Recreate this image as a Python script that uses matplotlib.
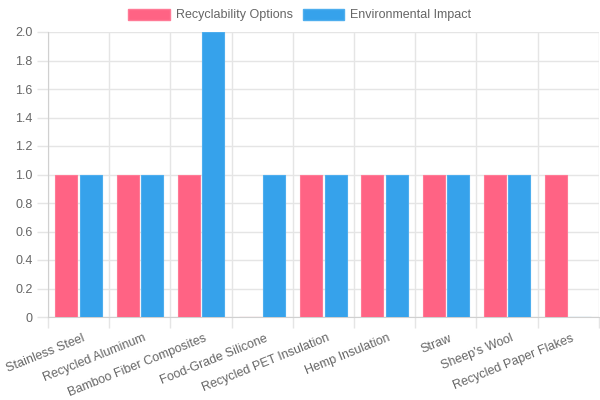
import numpy as np
import matplotlib
matplotlib.use('Agg')
import matplotlib.pyplot as plt
from matplotlib.patches import Patch

# data
categories = ['Stainless Steel', 'Recycled Aluminum', 'Bamboo Fiber Composites',
              'Food-Grade Silicone', 'Recycled PET Insulation', 'Hemp Insulation',
              'Straw', "Sheep's Wool", 'Recycled Paper Flakes']
recyclability = [1, 1, 1, 0, 1, 1, 1, 1, 1]
environmental = [1, 1, 2, 1, 1, 1, 1, 1, 0]
series_names = ['Recyclability Options', 'Environmental Impact']
y_ticks = [0, 0.2, 0.4, 0.6, 0.8, 1.0, 1.2, 1.4, 1.6, 1.8, 2.0]

pink = '#ff6384'
blue = '#36a2eb'
txt = '#666666'
grid = '#e5e5e5'

plt.rcParams['font.family'] = ['Liberation Sans', 'DejaVu Sans']

fig = plt.figure(figsize=(6, 4), dpi=100)
ax = fig.add_axes([0.08, 0.2075, 0.918, 0.7125])

x = np.arange(len(categories))
w = 0.36
ax.bar(x - 0.2, recyclability, w, color=pink, edgecolor='#ff7a96', linewidth=0.8, zorder=3)
ax.bar(x + 0.2, environmental, w, color=blue, edgecolor='#4eaeee', linewidth=0.8, zorder=3)

ax.set_xlim(-0.5, len(categories) - 0.5)
ax.set_ylim(0, 2.0)

# grid lines between categories (chart.js style)
ax.set_xticks(np.arange(len(categories) + 1) - 0.5, minor=False)
ax.set_xticklabels([])
ax.tick_params(axis='x', length=8, color=grid, width=1)
ax.set_xticks(x + 0.05, minor=True)
ax.set_xticklabels(categories, minor=True, rotation=22, ha='right',
                   rotation_mode='anchor', fontsize=9, color=txt)
ax.tick_params(axis='x', which='minor', length=0, pad=11)
ax.grid(axis='x', which='major', color=grid, linewidth=1, zorder=0)

ax.set_yticks(y_ticks)
ax.set_yticklabels(['0'] + ['%.1f' % v for v in y_ticks[1:]], fontsize=9, color=txt)
ax.tick_params(axis='y', length=8, color=grid, width=1, pad=3)
ax.grid(axis='y', color=grid, linewidth=1, zorder=0)

for s in ['top', 'right']:
    ax.spines[s].set_visible(False)
for s in ['left', 'bottom']:
    ax.spines[s].set_color('#d0d0d0')

handles = [Patch(facecolor=pink, edgecolor='#ff7a96'), Patch(facecolor=blue, edgecolor='#4eaeee')]
fig.legend(handles, series_names, loc='center', bbox_to_anchor=(0.5, 0.9625), ncol=2,
           frameon=False, fontsize=9, labelcolor=txt, handlelength=3.3, handleheight=1.0,
           handletextpad=0.5, columnspacing=0.8)

fig.savefig('out.png', dpi=100)
